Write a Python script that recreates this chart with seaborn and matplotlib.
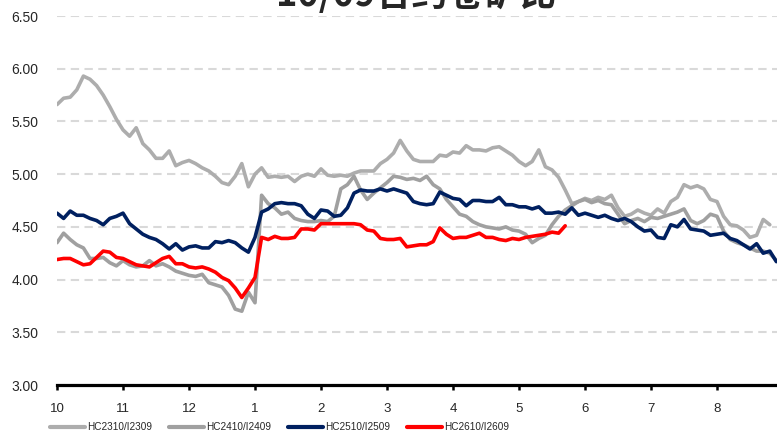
import numpy as np
import pandas as pd
import matplotlib
matplotlib.use("Agg")
import matplotlib.pyplot as plt
from matplotlib.lines import Line2D
import seaborn as sns

# ---------------- data (ratio, sampled every 0.1 month from Oct) ----------------
series_names = ["HC2310/I2309", "HC2410/I2409", "HC2510/I2509", "HC2610/I2609"]
series_colors = ["#ADADAD", "#A0A0A0", "#002060", "#FF0000"]

hc2310 = [5.66, 5.72, 5.73, 5.80, 5.93, 5.90, 5.84, 5.75, 5.64, 5.52,
          5.42, 5.36, 5.44, 5.29, 5.23, 5.15, 5.15, 5.22, 5.08, 5.11,
          5.13, 5.10, 5.06, 5.03, 4.98, 4.92, 4.90, 4.98, 5.10, 4.88,
          5.00, 5.06, 4.97, 4.98, 4.97, 4.98, 4.93, 4.98, 5.00, 4.98,
          5.05, 4.99, 4.98, 4.99, 4.98, 5.01, 5.03, 5.03, 5.03, 5.10,
          5.14, 5.20, 5.32, 5.22, 5.14, 5.12, 5.12, 5.12, 5.18, 5.17,
          5.21, 5.20, 5.27, 5.23, 5.23, 5.22, 5.25, 5.26, 5.22, 5.18,
          5.12, 5.08, 5.12, 5.23, 5.07, 5.04, 4.97, 4.85, 4.72, 4.74,
          4.77, 4.75, 4.78, 4.76, 4.80, 4.68, 4.60, 4.62, 4.66, 4.63,
          4.61, 4.67, 4.63, 4.74, 4.78, 4.90, 4.87, 4.89, 4.86, 4.76,
          4.74, 4.60, 4.52, 4.51, 4.47, 4.40, 4.42, 4.57, 4.52]

hc2410 = [4.35, 4.44, 4.38, 4.33, 4.30, 4.20, 4.20, 4.21, 4.16, 4.13,
          4.18, 4.14, 4.12, 4.13, 4.18, 4.13, 4.15, 4.12, 4.08, 4.06,
          4.04, 4.03, 4.05, 3.97, 3.95, 3.93, 3.85, 3.72, 3.70, 3.88,
          3.78, 4.80, 4.72, 4.68, 4.62, 4.64, 4.58, 4.56, 4.55, 4.55,
          4.56, 4.55, 4.60, 4.86, 4.90, 4.98, 4.85, 4.76, 4.82, 4.87,
          4.92, 4.98, 4.97, 4.95, 4.96, 4.94, 4.98, 4.90, 4.86, 4.76,
          4.69, 4.62, 4.60, 4.55, 4.52, 4.50, 4.49, 4.48, 4.50, 4.47,
          4.46, 4.43, 4.35, 4.39, 4.42, 4.52, 4.60, 4.66, 4.70, 4.74,
          4.76, 4.73, 4.75, 4.72, 4.71, 4.62, 4.53, 4.56, 4.58, 4.55,
          4.59, 4.58, 4.60, 4.62, 4.64, 4.67, 4.56, 4.53, 4.56, 4.62,
          4.60, 4.46, 4.38, 4.35, 4.33, 4.30, 4.27, 4.27, 4.25, 4.18]

hc2510 = [4.63, 4.58, 4.65, 4.61, 4.61, 4.58, 4.56, 4.52, 4.58, 4.60,
          4.63, 4.53, 4.48, 4.43, 4.40, 4.38, 4.34, 4.29, 4.34, 4.28,
          4.31, 4.32, 4.30, 4.30, 4.36, 4.35, 4.37, 4.35, 4.30, 4.26,
          4.40, 4.64, 4.67, 4.72, 4.73, 4.72, 4.72, 4.70, 4.62, 4.58,
          4.66, 4.65, 4.60, 4.61, 4.68, 4.82, 4.85, 4.84, 4.84, 4.86,
          4.84, 4.86, 4.84, 4.82, 4.74, 4.72, 4.71, 4.72, 4.83, 4.80,
          4.77, 4.76, 4.70, 4.75, 4.75, 4.74, 4.74, 4.78, 4.71, 4.71,
          4.69, 4.69, 4.67, 4.69, 4.63, 4.63, 4.64, 4.62, 4.68, 4.61,
          4.63, 4.61, 4.59, 4.61, 4.58, 4.56, 4.58, 4.55, 4.50, 4.46,
          4.47, 4.40, 4.39, 4.52, 4.50, 4.57, 4.48, 4.47, 4.46, 4.42,
          4.43, 4.44, 4.39, 4.37, 4.33, 4.29, 4.34, 4.25, 4.27, 4.17]

hc2610 = [4.19, 4.20, 4.20, 4.17, 4.14, 4.15, 4.21, 4.27, 4.26, 4.21,
          4.20, 4.17, 4.14, 4.13, 4.12, 4.16, 4.20, 4.22, 4.15, 4.15,
          4.12, 4.11, 4.12, 4.10, 4.07, 4.02, 3.99, 3.92, 3.83, 3.92,
          4.02, 4.40, 4.38, 4.41, 4.39, 4.39, 4.40, 4.48, 4.48, 4.47,
          4.53, 4.53, 4.53, 4.53, 4.53, 4.53, 4.52, 4.47, 4.46, 4.39,
          4.38, 4.38, 4.39, 4.31, 4.32, 4.33, 4.33, 4.36, 4.49, 4.43,
          4.39, 4.40, 4.40, 4.42, 4.44, 4.40, 4.40, 4.38, 4.37, 4.39,
          4.38, 4.40, 4.41, 4.42, 4.43, 4.45, 4.44, 4.51]

month_labels = ["10", "11", "12", "1", "2", "3", "4", "5", "6", "7", "8"]
y_ticks = [3.0, 3.5, 4.0, 4.5, 5.0, 5.5, 6.0, 6.5]
title_text = "10/09合约卷矿比"
step = 0.1  # months between samples

# ---------------- build long table ----------------
frames = []
for name, vals in zip(series_names, [hc2310, hc2410, hc2510, hc2610]):
    frames.append(pd.DataFrame({
        "month": np.arange(len(vals)) * step,
        "ratio": vals,
        "contract": name,
    }))
df = pd.concat(frames, ignore_index=True)

# ---------------- style ----------------
sns.set_style("white")
plt.rcParams["font.family"] = ["Liberation Sans", "Noto Sans CJK SC", "DejaVu Sans"]

fig = plt.figure(figsize=(7.77, 4.34), dpi=100)
ax = fig.add_axes([57 / 777, 1 - 385 / 434, 1 - 57 / 777, (385 - 16) / 434])

palette = dict(zip(series_names, series_colors))
sns.lineplot(data=df, x="month", y="ratio", hue="contract", hue_order=series_names,
             palette=palette, linewidth=2.6, legend=False, ax=ax,
             estimator=None, sort=False)

ax.set_xlim(0, 720 / 66)
ax.set_ylim(3.0, 6.5)
ax.set_yticks(y_ticks)
ax.set_yticklabels([f"{v:.2f}" for v in y_ticks], fontsize=10)
ax.set_xticks(np.arange(len(month_labels)))
ax.set_xticklabels(month_labels, fontsize=9.5)
ax.set_xlabel("")
ax.set_ylabel("")

ax.yaxis.grid(True, color="#D9D9D9", linewidth=1.5, linestyle=(0, (4, 2.6)))
ax.xaxis.grid(False)
ax.set_axisbelow(True)

for s in ["left", "right", "top"]:
    ax.spines[s].set_visible(False)
ax.spines["bottom"].set_color("black")
ax.spines["bottom"].set_linewidth(2.3)
ax.spines["bottom"].set_zorder(5)

ax.tick_params(axis="y", left=False, length=0, pad=13.5)
ax.tick_params(axis="x", bottom=True, direction="out", length=3.5, width=1.8,
               color="black", pad=9.5)

# title (cut off at top like the reference)
fig.text(0.535, 1 - 6 / 434, title_text, ha="center", va="baseline",
         fontsize=26, fontweight="bold", family=["Noto Sans CJK SC", "DejaVu Sans"])

# legend
handles = [Line2D([0], [0], color=c, linewidth=3.0) for c in series_colors]
fig.legend(handles, series_names, loc="center left", bbox_to_anchor=(50 / 777, 1 - 427 / 434),
           ncol=4, frameon=False, fontsize=7.2, handlelength=3.5, handletextpad=0.2,
           columnspacing=1.7, borderpad=0, borderaxespad=0)

fig.savefig("out.png", dpi=100)
